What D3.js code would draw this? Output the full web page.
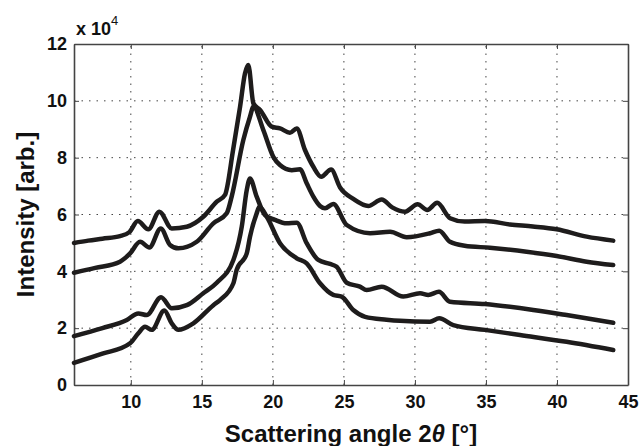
<!DOCTYPE html>
<html>
<head>
<meta charset="utf-8">
<script src="https://cdn.jsdelivr.net/npm/d3@7"></script>
<style>
  body { margin: 0; background: #fff; }
  svg { font-family: "Liberation Sans", Arial, sans-serif; font-weight: bold; }
  .grid line { stroke: #444; stroke-dasharray: 1.5,6; stroke-width: 1; }
  .axis path, .axis line { stroke: #444; }
  .axis text { font-size: 18px; fill: #111; font-weight: bold; }
</style>
</head>
<body>
<div id="chart"></div>
<script>
'use strict'

// Angles (2θ, degrees) and intensities (x 10^4).
const xA = [6, 7, 8, 9.24, 9.9, 10.49, 11.24, 12.01, 12.88, 13.94, 15.1, 16.05, 16.63, 17.2, 17.69, 18.04, 18.27, 18.63, 19.1, 19.92, 20.5, 21.2, 21.68, 22.26, 22.85, 23.4, 24.1, 24.73, 25.66, 26.72, 27.66, 28.4, 29.3, 30.19, 30.87, 31.57, 32.47, 33.5, 34.93, 36.69, 38.3, 39.98, 42.09, 43.96];
const yA = [5.0, 5.08, 5.15, 5.24, 5.38, 5.77, 5.48, 6.1, 5.51, 5.57, 5.92, 6.45, 6.69, 8.27, 9.79, 10.97, 11.26, 9.91, 9.68, 9.09, 9.03, 8.88, 9.03, 8.27, 7.68, 7.33, 7.58, 6.95, 6.55, 6.3, 6.53, 6.25, 6.1, 6.36, 6.16, 6.41, 5.87, 5.75, 5.77, 5.65, 5.58, 5.48, 5.22, 5.08];

const xB = [6, 7.5, 9.24, 9.95, 10.65, 11.31, 12.11, 12.76, 13.35, 14.64, 15.81, 16.75, 17.1, 17.92, 18.39, 18.63, 19.33, 20.03, 20.5, 21.33, 21.91, 22.38, 22.85, 23.32, 23.67, 24.25, 25.2, 26.84, 28.25, 29.42, 31.06, 31.71, 32.47, 33.5, 35.28, 37.86, 39.98, 42.09, 43.96];
const yB = [3.95, 4.12, 4.34, 4.63, 5.04, 4.84, 5.51, 4.93, 4.81, 5.04, 5.69, 6.04, 6.63, 8.62, 9.44, 9.79, 8.97, 8.03, 7.74, 7.56, 7.59, 7.1, 6.63, 6.3, 6.22, 6.37, 5.63, 5.34, 5.39, 5.2, 5.34, 5.43, 5.04, 4.9, 4.83, 4.69, 4.54, 4.34, 4.22];

const xC = [6, 8, 9.72, 10.53, 11.12, 12.13, 12.88, 13.94, 15.1, 16.05, 17.22, 17.81, 18.16, 18.39, 18.86, 19.45, 20.15, 20.97, 21.68, 22.38, 23.2, 24.02, 24.49, 25.2, 26.13, 26.6, 27.66, 29.18, 30.36, 30.94, 31.69, 32.47, 34.93, 38.33, 40.68, 43.96];
const yC = [1.72, 2.0, 2.29, 2.52, 2.46, 3.09, 2.7, 2.81, 3.23, 3.6, 4.4, 5.57, 6.86, 7.27, 6.63, 5.98, 5.81, 5.69, 5.71, 4.99, 4.4, 4.26, 4.16, 3.6, 3.46, 3.34, 3.46, 3.11, 3.23, 3.17, 3.28, 2.93, 2.85, 2.64, 2.46, 2.19];

const xD = [6, 8, 9.95, 10.53, 11.0, 11.48, 12.36, 12.88, 13.35, 14.4, 15.81, 16.28, 17.22, 17.45, 18.16, 18.39, 18.86, 19.05, 19.57, 20.5, 21.68, 22.38, 23.32, 24.25, 24.84, 25.66, 26.5, 28.0, 28.95, 31.06, 31.71, 32.7, 34.93, 37.4, 40.68, 43.96];
const yD = [0.78, 1.1, 1.47, 1.82, 2.05, 1.94, 2.62, 2.17, 1.94, 2.17, 2.81, 2.99, 3.58, 4.05, 4.63, 5.22, 6.04, 6.27, 5.92, 4.99, 4.46, 4.28, 3.58, 3.17, 3.11, 2.64, 2.4, 2.3, 2.26, 2.23, 2.35, 2.11, 1.94, 1.76, 1.52, 1.23];

const series = [[xA, yA], [xB, yB], [xC, yC], [xD, yD]];

const xTicks = [10, 15, 20, 25, 30, 35, 40, 45];
const yTicks = [0, 2, 4, 6, 8, 10, 12];

const W = 642, H = 446;
const margin = {top: 44, right: 14, bottom: 61, left: 74};

const svg = d3.select('#chart').append('svg')
    .attr('width', W)
    .attr('height', H);

const x = d3.scaleLinear().domain([6, 45]).range([margin.left, W - margin.right]);
const y = d3.scaleLinear().domain([0, 12]).range([H - margin.bottom, margin.top]);

// dotted grid
const grid = svg.append('g').attr('class', 'grid');
grid.selectAll('line.gx')
    .data(xTicks.filter(d => d < 45))
    .join('line')
    .attr('x1', d => x(d)).attr('x2', d => x(d))
    .attr('y1', y(0)).attr('y2', y(12));
grid.selectAll('line.gy')
    .data(yTicks.filter(d => d > 0 && d < 12))
    .join('line')
    .attr('class', 'gy')
    .attr('x1', x(6)).attr('x2', x(45))
    .attr('y1', d => y(d)).attr('y2', d => y(d));

// box with inward ticks on all sides
const tick = 5;
svg.append('g').attr('class', 'axis')
    .attr('transform', `translate(0,${y(0)})`)
    .call(d3.axisBottom(x).tickValues(xTicks).tickSizeInner(-tick).tickSizeOuter(0).tickPadding(10))
    .call(g => g.select('.domain').attr('stroke-width', 1.6));
svg.append('g').attr('class', 'axis')
    .attr('transform', `translate(0,${y(12)})`)
    .call(d3.axisTop(x).tickValues(xTicks).tickSizeInner(-tick).tickSizeOuter(0).tickFormat(''))
    .call(g => g.select('.domain').attr('stroke-width', 1.6));
svg.append('g').attr('class', 'axis')
    .attr('transform', `translate(${x(6)},0)`)
    .call(d3.axisLeft(y).tickValues(yTicks).tickSizeInner(-tick).tickSizeOuter(0).tickPadding(7))
    .call(g => g.select('.domain').attr('stroke-width', 1.6));
svg.append('g').attr('class', 'axis')
    .attr('transform', `translate(${x(45)},0)`)
    .call(d3.axisRight(y).tickValues(yTicks).tickSizeInner(-tick).tickSizeOuter(0).tickFormat(''))
    .call(g => g.select('.domain').attr('stroke-width', 1.6));

// curves
const line = d3.line()
    .x(d => x(d[0]))
    .y(d => y(d[1]))
    .curve(d3.curveMonotoneX);

svg.append('g').selectAll('path.curve')
    .data(series.map(s => s[0].map((v, i) => [v, s[1][i]])))
    .join('path')
    .attr('class', 'curve')
    .attr('d', line)
    .attr('fill', 'none')
    .attr('stroke', '#1e1c1c')
    .attr('stroke-width', 4.5)
    .attr('stroke-linejoin', 'round')
    .attr('stroke-linecap', 'round');

// exponent label
const expo = svg.append('text')
    .attr('x', x(6) + 2)
    .attr('y', 35)
    .style('font-size', '18px')
    .attr('fill', '#111');
expo.append('tspan').text('x 10');
expo.append('tspan').attr('dy', -10).style('font-size', '13px').style('font-weight', 'normal').text('4');

// axis titles
svg.append('text')
    .attr('transform', `translate(34,${(y(0) + y(12)) / 2}) rotate(-90)`)
    .attr('text-anchor', 'middle')
    .style('font-size', '24px')
    .attr('fill', '#111')
    .text('Intensity [arb.]');

const xt = svg.append('text')
    .attr('x', (x(6) + x(45)) / 2)
    .attr('y', 442)
    .attr('text-anchor', 'middle')
    .style('font-size', '24px')
    .attr('fill', '#111');
xt.append('tspan').text('Scattering angle 2');
xt.append('tspan').style('font-style', 'italic').text('θ');
xt.append('tspan').text(' [°]');
</script>
</body>
</html>
